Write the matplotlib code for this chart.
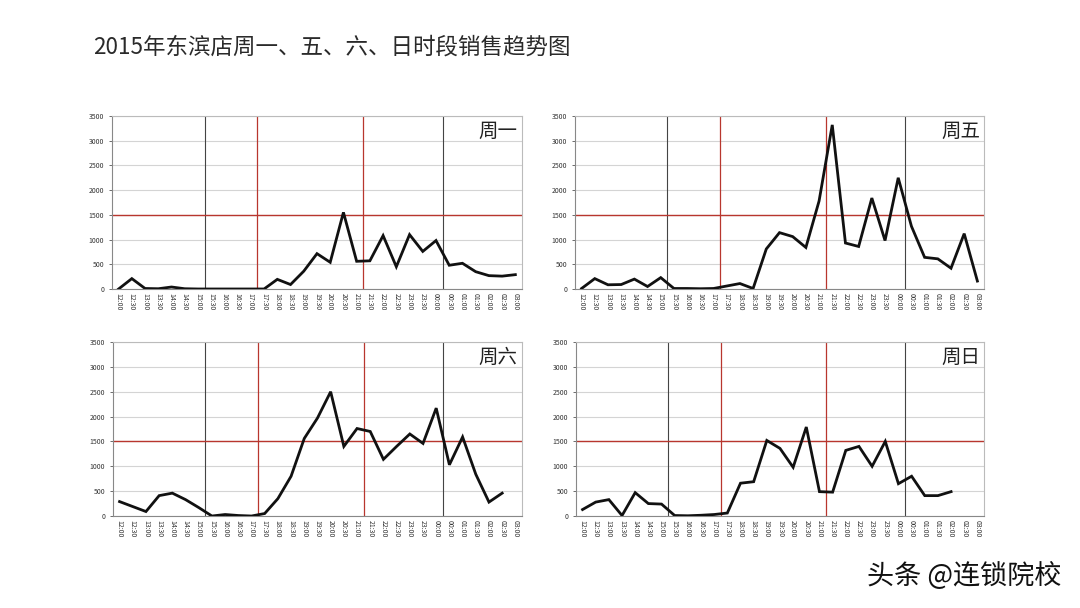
import numpy as np
import matplotlib
matplotlib.use("Agg")
import matplotlib.pyplot as plt

plt.rcParams['font.family'] = ['Noto Sans CJK SC', 'DejaVu Sans']

nan = np.nan

time_labels = ['12:00', '12:30', '13:00', '13:30', '14:00', '14:30', '15:00', '15:30',
               '16:00', '16:30', '17:00', '17:30', '18:00', '18:30', '19:00', '19:30',
               '20:00', '20:30', '21:00', '21:30', '22:00', '22:30', '23:00', '23:30',
               '00:00', '00:30', '01:00', '01:30', '02:00', '02:30', '03:00']

monday = [0, 210, 10, 5, 40, 5, 0, 0, 0, 0, 0, 0, 195, 90, 360, 715,
          540, 1550, 560, 570, 1080, 450, 1100, 760, 980, 480, 520, 350, 270, 260, 290]
friday = [10, 210, 85, 90, 200, 50, 230, 10, 10, 5, 10, 60, 110, 10, 810, 1140,
          1060, 840, 1780, 3320, 930, 860, 1840, 980, 2250, 1270, 640, 610, 420, 1120, 160]
saturday = [290, 190, 90, 410, 460, 330, 170, 0, 30, 10, 0, 50, 350, 800, 1560, 1970,
            2500, 1400, 1760, 1700, 1140, 1400, 1650, 1460, 2170, 1030, 1590, 840, 280, 460, nan]
sunday = [130, 280, 330, 10, 470, 250, 240, 10, 5, 15, 30, 60, 660, 690, 1520, 1360,
          980, 1790, 490, 480, 1320, 1400, 1000, 1500, 650, 800, 410, 410, 490, nan, nan]

day_names = ['周一', '周五', '周六', '周日']
series = [monday, friday, saturday, sunday]

target = 1500
# split lines drawn after these slots
black_after = ['15:00', '00:00']
red_after = ['17:00', '21:00']

fig = plt.figure(figsize=(10.8, 6.08), dpi=100)
fig.patch.set_facecolor('white')

fig.text(0.086, 0.912, '2015年东滨店周一、五、六、日时段销售趋势图',
         fontsize=16.2, color='#2a2a2a', fontweight='light', ha='left', va='baseline')
fig.text(0.983, 0.04, '头条 @连锁院校', fontsize=19.5, color='#111111',
         ha='right', va='baseline')

boxes = [
    [0.1037, 0.5247, 0.3796, 0.2845],
    [0.5324, 0.5247, 0.3787, 0.2845],
    [0.1046, 0.1513, 0.3787, 0.2862],
    [0.5333, 0.1513, 0.3778, 0.2862],
]

x = np.arange(len(time_labels))
for box, name, vals in zip(boxes, day_names, series):
    ax = fig.add_axes(box)
    ax.set_xlim(-0.5, len(time_labels) - 0.5)
    ax.set_ylim(0, 3500)
    ax.set_yticks(np.arange(0, 3501, 500))
    ax.yaxis.grid(True, color='#d4d4d4', linewidth=0.8)
    ax.set_axisbelow(True)
    for lab in black_after:
        ax.axvline(time_labels.index(lab) + 0.5, color='#444444', linewidth=0.8, zorder=2)
    for lab in red_after:
        ax.axvline(time_labels.index(lab) + 0.5, color='#b8362e', linewidth=0.9, zorder=2)
    ax.axhline(target, color='#b8362e', linewidth=1.0, zorder=2)
    ax.plot(x, vals, color='#111111', linewidth=2.0, zorder=3,
            solid_joinstyle='miter')
    ax.set_xticks(x)
    ax.set_xticklabels(time_labels, rotation=-90, fontsize=5, color='#333333')
    ax.tick_params(axis='y', labelsize=5, colors='#333333', length=2, width=0.5)
    ax.tick_params(axis='x', length=0, pad=3)
    for sp in ax.spines.values():
        sp.set_color('#bbbbbb')
        sp.set_linewidth(0.8)
    ax.spines['left'].set_color('#888888')
    ax.spines['bottom'].set_color('#888888')
    ax.text(0.99, 0.97, name, transform=ax.transAxes, ha='right', va='top',
            fontsize=14, color='#222222', fontweight='light', zorder=4)

fig.savefig('out.png', dpi=100, facecolor='white')
